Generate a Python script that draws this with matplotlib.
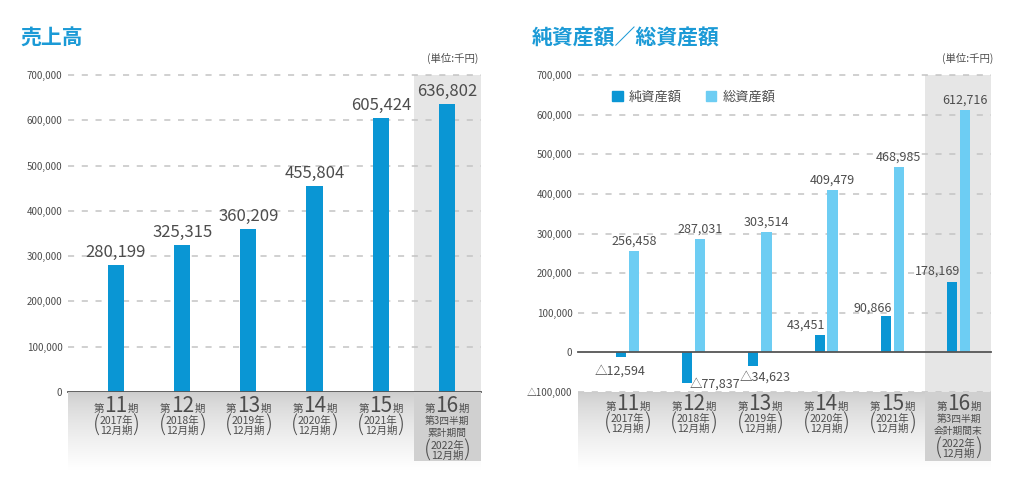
import numpy as np
import matplotlib
matplotlib.use('Agg')
import matplotlib.pyplot as plt
from matplotlib.patches import Patch, Rectangle

plt.rcParams['font.family'] = ['Noto Sans CJK JP', 'DejaVu Sans']

# data (単位: 千円)
periods = ['11', '12', '13', '14', '15', '16']
years = ['2017年', '2018年', '2019年', '2020年', '2021年', '2022年']
sales = [280199, 325315, 360209, 455804, 605424, 636802]
net_assets = [-12594, -77837, -34623, 43451, 90866, 178169]
total_assets = [256458, 287031, 303514, 409479, 468985, 612716]

left_ticks = [0, 100000, 200000, 300000, 400000, 500000, 600000, 700000]
right_ticks = [-100000, 0, 100000, 200000, 300000, 400000, 500000, 600000, 700000]

W, H = 1024, 487
TXT = '#4d4d4d'
GRID = '#c4c4c4'
TITLE = '#1b9ad6'
DARK = '#0a96d4'
LIGHT = '#6dcdf3'

fig = plt.figure(figsize=(W / 100, H / 100), dpi=100)


def rect(x0, y0, x1, y1):
    return [x0 / W, 1 - y1 / H, (x1 - x0) / W, (y1 - y0) / H]


def fmt(v):
    return ('△' if v < 0 else '') + f'{abs(v):,}'


def setup_chart(px, xlim, ylim, ticks):
    ax = fig.add_axes(rect(*px))
    ax.set_xlim(*xlim)
    ax.set_ylim(*ylim)
    for s in ax.spines.values():
        s.set_visible(False)
    ax.set_xticks([])
    ax.set_yticks(ticks)
    ax.set_yticklabels([fmt(t) for t in ticks], fontsize=7, color=TXT)
    ax.tick_params(axis='y', length=0, pad=4)
    ax.axvspan(4.5, xlim[1], color='#e6e6e6', zorder=0, lw=0)
    for t in ticks:
        if t == 0:
            ax.axhline(0, color='#555555', lw=1.3, zorder=3, clip_on=False)
        else:
            ax.axhline(t, color=GRID, lw=1.1, ls=(0, (4, 5)), zorder=1, clip_on=False)
    return ax


def draw_band(px, xlim, base, sub16):
    h = px[3] - px[1]
    bx = fig.add_axes(rect(*px))
    bx.set_xlim(*xlim)
    bx.set_ylim(h, 0)
    bx.axis('off')
    g = np.linspace(0, 1, 120)[:, None] * np.ones((1, 2))
    shade = 0.80 + 0.20 * g ** 0.7
    bx.imshow(np.dstack([shade] * 3), extent=(xlim[0], xlim[1], h, 0),
              aspect='auto', zorder=0, interpolation='bilinear')
    bx.add_patch(Rectangle((4.5, 0), xlim[1] - 4.5, 69, color='#d0d0d0', lw=0, zorder=1))
    for i, p in enumerate(periods):
        bx.text(i, base, p, ha='center', va='baseline', fontsize=15, color=TXT, zorder=3)
        bx.annotate('第', (i, base), xytext=(-12, 0), textcoords='offset pixels',
                    ha='right', va='baseline', fontsize=7.5, color=TXT, zorder=3)
        bx.annotate('期', (i, base), xytext=(12, 0), textcoords='offset pixels',
                    ha='left', va='baseline', fontsize=7.5, color=TXT, zorder=3)
        y0 = base
        if i == 5:
            for k, s in enumerate(sub16):
                bx.text(i, base + 9 + 11.5 * k, s, ha='center', va='center',
                        fontsize=7, color=TXT, zorder=3)
            y0 = base + 25
        bx.text(i, y0 + 8.5, years[i][:4] + '年', ha='center', va='center',
                fontsize=7.5, color=TXT, zorder=3)
        bx.text(i, y0 + 18.5, '12月期', ha='center', va='center',
                fontsize=7.5, color=TXT, zorder=3)
        for sgn, ch in ((-1, '('), (1, ')')):
            bx.annotate(ch, (i, y0 + 13.5), xytext=(sgn * 20, 0), textcoords='offset pixels',
                        ha='center', va='center', fontsize=16, color=TXT,
                        fontweight='light', zorder=3)
    return bx


x = np.arange(len(periods))

# 売上高
lxlim = (-0.725, 5.514)
ax1 = setup_chart((68, 75, 481, 392), lxlim, (0, 700000), left_ticks)
ax1.bar(x, sales, width=0.245, color=DARK, zorder=2)
for i, v in enumerate(sales):
    ax1.annotate(fmt(v), (i, v), xytext=(0, 4), textcoords='offset pixels',
                 ha='center', va='bottom', fontsize=12, color=TXT)
draw_band((68, 392, 481, 470), lxlim, 20, ['第3四半期', '累計期間'])

# 純資産額／総資産額
rxlim = (-0.748, 5.491)
ax2 = setup_chart((578, 75, 991, 392), rxlim, (-100000, 700000), right_ticks)
ax2.bar(x - 0.098, net_assets, width=0.15, color=DARK, zorder=2)
ax2.bar(x + 0.098, total_assets, width=0.155, color=LIGHT, zorder=2)
net_offsets = [(-1, -14), (28, -1), (12, -11), (-14, 10), (-13, 8), (-14, 11)]
for i, v in enumerate(net_assets):
    ax2.annotate(fmt(v), (i - 0.098, v), xytext=net_offsets[i], textcoords='offset pixels',
                 ha='center', va='center', fontsize=9, color=TXT)
for i, v in enumerate(total_assets):
    ax2.annotate(fmt(v), (i + 0.098, v), xytext=(0, 3), textcoords='offset pixels',
                 ha='center', va='bottom', fontsize=9, color=TXT)
ax2.legend([Patch(color=DARK), Patch(color=LIGHT)], ['純資産額', '総資産額'],
           ncol=2, loc='center left', bbox_to_anchor=((612 - 578) / 413, 1 - (97.5 - 75) / 317),
           frameon=False, fontsize=9.5, handlelength=0.8, handleheight=0.8,
           handletextpad=0.5, columnspacing=1.8, borderaxespad=0, borderpad=0,
           labelcolor=TXT)
draw_band((578, 392, 991, 470), rxlim, 18, ['第3四半期', '会計期間末'])

# titles and units
fig.text(20 / W, 1 - 38 / H, '売上高', fontsize=15, fontweight='bold', color=TITLE, va='center')
fig.text(532 / W, 1 - 38 / H, '純資産額／総資産額', fontsize=15, fontweight='bold',
         color=TITLE, va='center')
fig.text(478 / W, 1 - 58 / H, '(単位:千円)', fontsize=7.5, color=TXT, ha='right', va='center')
fig.text(993 / W, 1 - 58 / H, '(単位:千円)', fontsize=7.5, color=TXT, ha='right', va='center')

fig.savefig('out.png', dpi=100, facecolor='white')
